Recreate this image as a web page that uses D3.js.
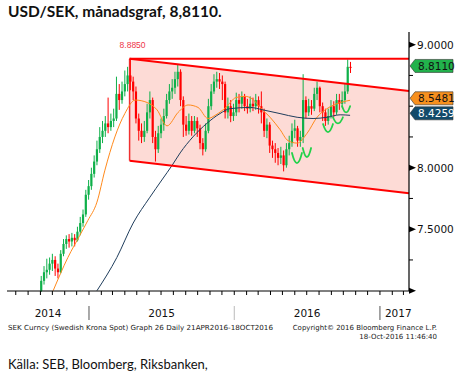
<!DOCTYPE html>
<html><head><meta charset="utf-8">
<script src="https://cdn.jsdelivr.net/npm/d3@7"></script>
<style>body{margin:0;background:#fff}svg{display:block}</style>
</head><body>
<svg id="c" width="457" height="376"></svg>
<script>
// ---------- DATA (weekly candles) ----------
const firstWeek = "2014-09-01";
const opens = [7.00,7.08,7.15,7.17,7.22,7.25,7.18,7.15,7.30,7.38,
 7.42,7.40,7.43,7.41,7.48,7.55,7.62,7.78,7.85,7.95,
 8.05,8.15,8.25,8.30,8.36,8.33,8.38,8.40,8.60,8.55,
 8.62,8.68,8.75,8.70,8.62,8.40,8.30,8.25,8.30,8.45,
 8.55,8.25,8.15,8.28,8.35,8.42,8.55,8.62,8.65,8.72,
 8.78,8.55,8.35,8.30,8.38,8.30,8.38,8.32,8.20,8.15,
 8.30,8.50,8.62,8.70,8.72,8.70,8.68,8.45,8.50,8.42,
 8.45,8.55,8.52,8.58,8.50,8.48,8.52,8.50,8.55,8.50,
 8.45,8.30,8.35,8.18,8.15,8.12,8.08,8.10,8.02,8.15,
 8.20,8.30,8.32,8.22,8.25,8.55,8.45,8.50,8.48,8.60,
 8.65,8.50,8.45,8.38,8.42,8.50,8.45,8.55,8.52,8.55,
 8.62,8.82];
const closes = [7.08,7.15,7.17,7.22,7.25,7.18,7.15,7.30,7.38,7.42,
 7.40,7.43,7.41,7.48,7.55,7.62,7.78,7.85,7.95,8.05,
 8.15,8.25,8.30,8.36,8.33,8.38,8.40,8.60,8.55,8.62,
 8.68,8.75,8.70,8.62,8.40,8.30,8.25,8.30,8.45,8.55,
 8.25,8.15,8.28,8.35,8.42,8.55,8.62,8.65,8.72,8.78,
 8.55,8.35,8.30,8.38,8.30,8.38,8.32,8.20,8.15,8.30,
 8.50,8.62,8.70,8.72,8.70,8.68,8.45,8.50,8.42,8.45,
 8.55,8.52,8.58,8.50,8.48,8.52,8.50,8.55,8.50,8.45,
 8.30,8.35,8.18,8.15,8.12,8.08,8.10,8.02,8.15,8.20,
 8.30,8.32,8.22,8.25,8.55,8.45,8.50,8.48,8.60,8.65,
 8.50,8.45,8.38,8.42,8.50,8.45,8.55,8.52,8.55,8.62,
 8.82,8.811];
const highs = [7.12,7.20,7.26,7.27,7.30,7.28,7.22,7.33,7.42,7.45,
 7.46,7.47,7.46,7.52,7.60,7.66,7.82,7.90,8.00,8.10,
 8.22,8.33,8.38,8.42,8.57,8.44,8.48,8.74,8.68,8.70,
 8.79,8.82,8.885,8.74,8.66,8.44,8.36,8.38,8.52,8.62,
 8.57,8.30,8.34,8.40,8.48,8.60,8.68,8.72,8.78,8.84,
 8.80,8.58,8.42,8.44,8.42,8.42,8.41,8.35,8.24,8.36,
 8.56,8.68,8.76,8.78,8.77,8.75,8.70,8.57,8.55,8.52,
 8.61,8.60,8.62,8.60,8.56,8.58,8.57,8.60,8.58,8.62,
 8.48,8.40,8.37,8.22,8.20,8.16,8.17,8.14,8.20,8.26,
 8.36,8.39,8.34,8.30,8.76,8.58,8.56,8.55,8.65,8.70,
 8.66,8.53,8.48,8.48,8.55,8.54,8.60,8.60,8.62,8.68,
 8.88,8.86];
const lows = [6.99,7.05,7.10,7.13,7.16,7.12,7.10,7.14,7.28,7.34,
 7.35,7.36,7.36,7.40,7.45,7.52,7.60,7.74,7.82,7.92,
 8.02,8.12,8.20,8.25,8.28,8.30,8.33,8.38,8.47,8.52,
 8.58,8.62,8.63,8.55,8.36,8.22,8.20,8.21,8.28,8.40,
 8.20,8.05,8.12,8.24,8.30,8.40,8.52,8.56,8.60,8.66,
 8.50,8.25,8.26,8.27,8.26,8.28,8.25,8.15,8.10,8.13,
 8.28,8.47,8.60,8.65,8.64,8.55,8.40,8.40,8.37,8.38,
 8.42,8.45,8.48,8.46,8.44,8.45,8.46,8.47,8.44,8.36,
 8.25,8.24,8.12,8.08,8.04,8.02,8.03,7.97,8.00,8.10,
 8.17,8.24,8.17,8.17,8.20,8.40,8.42,8.43,8.46,8.55,
 8.45,8.38,8.34,8.35,8.40,8.41,8.43,8.47,8.49,8.52,
 8.60,8.77];

// moving averages
const maShortDates = ["2014-10-03","2014-11-09","2014-12-09","2014-12-29","2015-01-21","2015-02-10","2015-03-07","2015-04-01","2015-04-27","2015-05-27","2015-06-21","2015-07-16","2015-08-13","2015-09-07","2015-10-02","2015-10-27","2015-11-16","2015-12-11","2016-01-05","2016-01-28","2016-02-15","2016-03-06","2016-03-31","2016-04-25","2016-05-15","2016-06-07","2016-07-02","2016-07-27","2016-08-21","2016-09-15","2016-10-18"];
const maShortValues = [7.00,7.27,7.45,7.57,7.72,7.98,8.25,8.44,8.55,8.53,8.47,8.34,8.45,8.51,8.49,8.40,8.43,8.49,8.57,8.58,8.56,8.49,8.41,8.31,8.22,8.20,8.28,8.41,8.48,8.52,8.5481];
const maLongDates = ["2015-01-21","2015-03-12","2015-04-22","2015-06-03","2015-07-03","2015-07-29","2015-08-18","2015-09-19","2015-10-24","2015-11-26","2015-12-21","2016-02-10","2016-03-13","2016-04-25","2016-06-07","2016-07-17","2016-08-21","2016-09-23","2016-10-18"];
const maLongValues = [7.00,7.27,7.55,7.76,7.90,8.02,8.12,8.25,8.36,8.44,8.48,8.49,8.47,8.44,8.41,8.40,8.41,8.43,8.4259];

// channel
const channelDates = ["2015-04-13","2017-03-15"];
const channelUpper = [8.885, 8.624];
const channelLower = [8.057, 7.792];
const resistance = 8.885;

// hand-drawn green marks (start date, end date, top value, bottom value)
const smileStart = ["2016-05-25","2016-06-21","2016-08-11","2016-09-05","2016-09-28"];
const smileEnd   = ["2016-06-19","2016-07-12","2016-09-05","2016-09-30","2016-10-18"];
const smileTop   = [8.12,8.16,8.355,8.41,8.50];
const smileBottom= [8.038,8.087,8.29,8.36,8.45];

const yTickValues = [9.0, 8.0, 7.5];
const yTickLabels = ["9.0000","8.0000","7.5000"];
const yMinorTicks = [8.75, 8.5, 8.25, 7.75, 7.25, 7.0];
const years = ["2014","2015","2016","2017"];
const lastLabels = ["8.8110","8.5481","8.4259"];
const lastValues = [8.811, 8.5481, 8.4259];

// ---------- DRAWING ----------
const P = d3.timeParse("%Y-%m-%d");
const svg = d3.select("#c");
const x = d3.scaleTime().domain([P("2014-06-09"), P("2017-03-15")]).range([7, 409]);
const y = d3.scaleLinear().domain([7, 9]).range([290.7, 44.7]);

// title
svg.append("text").attr("x", 8).attr("y", 17).text("USD/SEK, månadsgraf, 8,8110.")
  .attr("font-family", "Lato, 'Open Sans', sans-serif").attr("font-weight", "bold")
  .attr("font-size", 15.5).attr("fill", "#111");

// channel fill
const cd = channelDates.map(P);
svg.append("path")
  .attr("d", `M${x(cd[0])},${y(channelUpper[0])}L${x(cd[1])},${y(channelUpper[1])}L${x(cd[1])},${y(channelLower[1])}L${x(cd[0])},${y(channelLower[0])}Z`)
  .attr("fill", "#fddbd6");
svg.append("line").attr("x1", x(cd[0])).attr("x2", x(cd[0]))
  .attr("y1", y(resistance)).attr("y2", y(channelLower[0]))
  .attr("stroke", "#f03030").attr("stroke-width", 1.5);

// candles
const wk0 = P(firstWeek);
const cg = svg.append("g");
closes.forEach((c, i) => {
  const d = d3.timeDay.offset(d3.timeWeek.offset(wk0, i), 2);
  const cx = x(d);
  const up = c >= opens[i];
  const col = up ? "#0fb04a" : "#ff0000";
  cg.append("line").attr("x1", cx).attr("x2", cx).attr("y1", y(highs[i])).attr("y2", y(lows[i]))
    .attr("stroke", col).attr("stroke-width", 1);
  const top = y(Math.max(c, opens[i])), bot = y(Math.min(c, opens[i]));
  cg.append("rect").attr("x", cx - 1.1).attr("width", 2.2)
    .attr("y", top).attr("height", Math.max(1, bot - top)).attr("fill", col);
});

// moving averages
const line = d3.line().x(d => x(d[0])).y(d => y(d[1])).curve(d3.curveMonotoneX);
svg.append("path").datum(maShortDates.map((d, i) => [P(d), maShortValues[i]]))
  .attr("d", line).attr("fill", "none").attr("stroke", "#ff8a1c").attr("stroke-width", 1);
svg.append("path").datum(maLongDates.map((d, i) => [P(d), maLongValues[i]]))
  .attr("d", line).attr("fill", "none").attr("stroke", "#1f3d5c").attr("stroke-width", 1);

// channel lines
svg.append("line").attr("x1", x(cd[0])).attr("x2", 409).attr("y1", y(resistance)).attr("y2", y(resistance))
  .attr("stroke", "#ff0000").attr("stroke-width", 2);
svg.append("line").attr("x1", x(cd[0])).attr("x2", x(cd[1])).attr("y1", y(channelUpper[0])).attr("y2", y(channelUpper[1]))
  .attr("stroke", "#ff0000").attr("stroke-width", 2);
svg.append("line").attr("x1", x(cd[0])).attr("x2", x(cd[1])).attr("y1", y(channelLower[0])).attr("y2", y(channelLower[1]))
  .attr("stroke", "#ff0000").attr("stroke-width", 2);
svg.append("text").attr("x", x(cd[0]) + 3).attr("y", y(resistance) - 11).attr("text-anchor", "middle")
  .text("8.8850").attr("font-family", "'Liberation Sans', sans-serif").attr("font-size", 8.5).attr("fill", "#ee3548");

// green smiles
smileStart.forEach((s, i) => {
  const x0 = x(P(s)), x1 = x(P(smileEnd[i]));
  const yt = y(smileTop[i]), yb = y(smileBottom[i]);
  svg.append("path")
    .attr("d", `M${x0},${yt}Q${(x0 + x1) / 2},${2 * yb - yt} ${x1},${yt}`)
    .attr("fill", "none").attr("stroke", "#22d14a").attr("stroke-width", 1.8).attr("stroke-linecap", "round");
});

// x axis
svg.append("line").attr("x1", 7).attr("x2", 409).attr("y1", 291).attr("y2", 291).attr("stroke", "#000").attr("stroke-width", 1);
x.ticks(d3.timeMonth.every(1)).forEach(t => {
  svg.append("line").attr("x1", x(t)).attr("x2", x(t)).attr("y1", 291).attr("y2", 295).attr("stroke", "#000");
});
const ys = years.map(s => P(s + "-01-01"));
[1, 2, 3].forEach(i => {
  svg.append("line").attr("x1", x(ys[i])).attr("x2", x(ys[i])).attr("y1", 306).attr("y2", 320)
    .attr("stroke", i === 2 ? "#bbb" : "#555").attr("stroke-width", 1);
});
const yearFont = "'DejaVu Sans', Verdana, sans-serif";
years.forEach((yr, i) => {
  let cx, anchor = "middle";
  if (i === 0) cx = (7 + x(ys[1])) / 2;
  else if (i < 3) cx = (x(ys[i]) + x(ys[i + 1])) / 2;
  else { cx = x(ys[i]) + 5; anchor = "start"; }
  svg.append("text").attr("x", cx).attr("y", 317).attr("text-anchor", anchor).text(yr)
    .attr("font-family", yearFont).attr("font-size", 10.5).attr("fill", "#111");
});

// y axis
svg.append("line").attr("x1", 409).attr("x2", 409).attr("y1", 32).attr("y2", 291).attr("stroke", "#000").attr("stroke-width", 1.2);
yMinorTicks.forEach(v => {
  svg.append("line").attr("x1", 409).attr("x2", 413).attr("y1", y(v)).attr("y2", y(v)).attr("stroke", "#000");
});
yTickValues.concat([7.0]).forEach(v => {
  svg.append("path").attr("d", `M409,${y(v) - 3}L416,${y(v)}L409,${y(v) + 3}Z`).attr("fill", "#000");
});
yTickValues.forEach((v, i) => {
  svg.append("text").attr("x", 417).attr("y", y(v) + 4).text(yTickLabels[i])
    .attr("font-family", yearFont).attr("font-size", 10.5).attr("fill", "#111");
});

// last value tags
const tagFill = ["#22b24c", "#f7901e", "#124a6a"];
const tagText = ["#111", "#111", "#fff"];
lastValues.forEach((v, i) => {
  const cy = y(v) - 2, h = 13;
  svg.append("path")
    .attr("d", `M410,${cy}L415,${cy - h / 2}L453,${cy - h / 2}L453,${cy + h / 2}L415,${cy + h / 2}Z`)
    .attr("fill", tagFill[i]).attr("stroke", "#333").attr("stroke-width", 0.6);
  svg.append("text").attr("x", 418).attr("y", cy + 4).text(lastLabels[i])
    .attr("font-family", yearFont).attr("font-size", 10.5).attr("fill", tagText[i]);
});

// bloomberg footer
const smallFont = "'DejaVu Sans', sans-serif";
svg.append("text").attr("x", 8).attr("y", 330).text("SEK Curncy (Swedish Krona Spot) Graph 26  Daily 21APR2016-18OCT2016")
  .attr("font-family", smallFont).attr("font-size", 7).attr("textLength", 265).attr("lengthAdjust", "spacingAndGlyphs").attr("fill", "#222");
svg.append("text").attr("x", 437).attr("y", 330).attr("text-anchor", "end").text("Copyright© 2016 Bloomberg Finance L.P.")
  .attr("font-family", smallFont).attr("font-size", 7).attr("fill", "#222");
svg.append("text").attr("x", 437).attr("y", 339).attr("text-anchor", "end").text("18-Oct-2016 11:46:40")
  .attr("font-family", smallFont).attr("font-size", 7).attr("fill", "#222");

// source
svg.append("text").attr("x", 8).attr("y", 369).text("Källa: SEB, Bloomberg, Riksbanken,")
  .attr("font-family", "Lato, 'Open Sans', sans-serif").attr("font-size", 13).attr("fill", "#111");
</script>
</body></html>
